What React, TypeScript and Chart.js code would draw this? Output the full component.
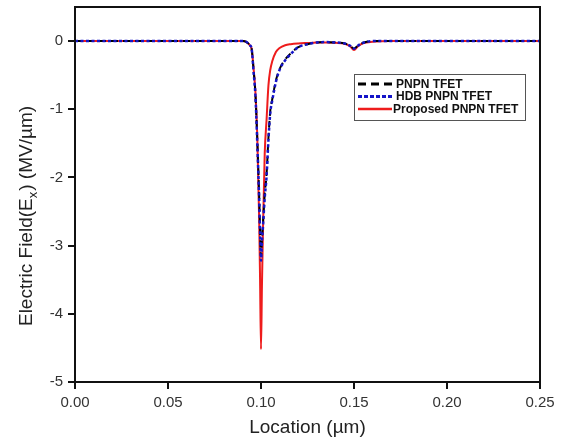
import React, { useEffect, useRef } from "react";
import { Chart, registerables } from "chart.js";

Chart.register(...registerables);

// Location along the device (µm)
const locations = [
  0, 0.02, 0.04, 0.06, 0.08, 0.09, 0.092, 0.094, 0.095, 0.096, 0.097, 0.098,
  0.099, 0.0995, 0.1, 0.1005, 0.101, 0.102, 0.103, 0.104, 0.105, 0.106, 0.108,
  0.11, 0.113, 0.116, 0.12, 0.125, 0.13, 0.135, 0.14, 0.145, 0.148, 0.15,
  0.152, 0.155, 0.16, 0.17, 0.2, 0.25,
];

// Electric field Ex (MV/µm)
const pnpnField = [
  0, 0, 0, 0, 0, 0, -0.01, -0.06, -0.12, -0.42, -0.78, -1.45, -2.25, -2.75,
  -3.15, -2.9, -2.7, -2.25, -1.95, -1.42, -1.02, -0.86, -0.58, -0.41, -0.27,
  -0.18, -0.09, -0.045, -0.02, -0.015, -0.02, -0.035, -0.07, -0.11, -0.07,
  -0.025, 0, 0, 0, 0,
];
const hdbField = [
  0, 0, 0, 0, 0, 0, -0.01, -0.06, -0.12, -0.45, -0.8, -1.5, -2.3, -2.8, -3.22,
  -2.95, -2.75, -2.3, -1.98, -1.45, -1.05, -0.88, -0.6, -0.42, -0.28, -0.19,
  -0.09, -0.045, -0.02, -0.015, -0.02, -0.035, -0.07, -0.11, -0.07, -0.025, 0,
  0, 0, 0,
];
const proposedField = [
  0, 0, 0, 0, 0, 0, -0.01, -0.06, -0.12, -0.4, -0.75, -1.4, -2.6, -3.5, -4.52,
  -3.6, -2.85, -1.65, -1.15, -0.65, -0.42, -0.3, -0.16, -0.1, -0.06, -0.045,
  -0.035, -0.028, -0.022, -0.02, -0.025, -0.04, -0.08, -0.13, -0.08, -0.03,
  -0.01, 0, 0, 0,
];

const seriesNames = ["PNPN TFET", "HDB PNPN TFET", "Proposed PNPN TFET"];
const xTicks = [0, 0.05, 0.1, 0.15, 0.2, 0.25];
const yTicks = [-5, -4, -3, -2, -1, 0];

const FONT = "'Liberation Sans', Arial, sans-serif";

const toPoints = (ys: number[]) => locations.map((x, i) => ({ x, y: ys[i] }));

// Frame, axis titles and the boxed legend drawn on top of the chart
const decorations = {
  id: "decorations",
  afterDraw(chart: any) {
    const { ctx, chartArea } = chart;
    const { left, right, top, bottom } = chartArea;
    ctx.save();

    // box around the plot
    ctx.strokeStyle = "#111";
    ctx.lineWidth = 2;
    ctx.strokeRect(left, top, right - left, bottom - top);

    // x title
    ctx.fillStyle = "#222";
    ctx.font = `19px ${FONT}`;
    ctx.textAlign = "center";
    ctx.textBaseline = "alphabetic";
    ctx.fillText("Location (\u00b5m)", (left + right) / 2, 433);

    // y title with subscript
    ctx.save();
    ctx.translate(32, 216);
    ctx.rotate(-Math.PI / 2);
    const a = "Electric Field(E";
    const s = "x";
    const b = ") (MV/\u00b5m)";
    ctx.font = `19px ${FONT}`;
    const wa = ctx.measureText(a).width;
    const wb = ctx.measureText(b).width;
    ctx.font = `13px ${FONT}`;
    const ws = ctx.measureText(s).width;
    let x0 = -(wa + ws + wb + 1) / 2;
    ctx.textAlign = "left";
    ctx.font = `19px ${FONT}`;
    ctx.fillText(a, x0, 0);
    x0 += wa;
    ctx.font = `13px ${FONT}`;
    ctx.fillText(s, x0, 5);
    x0 += ws + 1;
    ctx.font = `19px ${FONT}`;
    ctx.fillText(b, x0, 0);
    ctx.restore();

    // legend
    const bx = right - 186;
    const by = top + 67;
    const bw = 171;
    const bh = 46;
    ctx.fillStyle = "#fff";
    ctx.fillRect(bx, by, bw, bh);
    ctx.strokeStyle = "#555";
    ctx.lineWidth = 1;
    ctx.strokeRect(bx + 0.5, by + 0.5, bw, bh);
    ctx.font = `bold 12px ${FONT}`;
    ctx.textAlign = "left";
    ctx.textBaseline = "middle";
    chart.data.datasets.forEach((ds: any, i: number) => {
      const ry = by + 10 + i * 12.5;
      ctx.strokeStyle = ds.borderColor;
      ctx.lineWidth = i === 2 ? 2.5 : 3;
      ctx.setLineDash(ds.legendDash || []);
      ctx.beginPath();
      ctx.moveTo(bx + 4, ry);
      ctx.lineTo(bx + 38, ry);
      ctx.stroke();
      ctx.setLineDash([]);
      ctx.fillStyle = "#111";
      ctx.fillText(ds.label, bx + (i === 2 ? 39 : 42), ry + 0.5);
    });

    ctx.restore();
  },
};

export default function App() {
  const canvasRef = useRef<HTMLCanvasElement | null>(null);

  useEffect(() => {
    const canvas = canvasRef.current;
    if (!canvas) return;
    const chart = new Chart(canvas, {
      type: "line",
      data: {
        datasets: [
          {
            label: seriesNames[0],
            data: toPoints(pnpnField),
            borderColor: "#000000",
            borderWidth: 2,
            borderDash: [7, 5],
            legendDash: [8, 5],
            pointRadius: 0,
            cubicInterpolationMode: "monotone",
            fill: false,
            order: 1,
          } as any,
          {
            label: seriesNames[1],
            data: toPoints(hdbField),
            borderColor: "#1414c8",
            borderWidth: 2.5,
            borderDash: [3, 2.5],
            legendDash: [4, 2],
            pointRadius: 0,
            cubicInterpolationMode: "monotone",
            fill: false,
            order: 0,
          } as any,
          {
            label: seriesNames[2],
            data: toPoints(proposedField),
            borderColor: "#ee1c1c",
            borderWidth: 2,
            pointRadius: 0,
            cubicInterpolationMode: "monotone",
            fill: false,
            order: 2,
          } as any,
        ],
      },
      options: {
        responsive: false,
        animation: false,
        layout: { padding: { left: 0, top: 7, right: 28, bottom: 0 } },
        plugins: {
          legend: { display: false },
          tooltip: { enabled: false },
          title: { display: false },
        },
        scales: {
          x: {
            type: "linear",
            min: 0,
            max: 0.25,
            afterFit: (scale: any) => {
              scale.height = 56;
              scale.paddingLeft = 0;
              scale.paddingRight = 0;
            },
            afterBuildTicks: (scale: any) => {
              scale.ticks = xTicks.map((v) => ({ value: v }));
            },
            border: { display: true, color: "#111", width: 2 },
            grid: {
              display: true,
              drawOnChartArea: false,
              drawTicks: true,
              tickLength: 7,
              color: "#111",
              lineWidth: 2,
            },
            ticks: {
              color: "#333",
              font: { family: FONT, size: 15 },
              padding: 5,
              maxRotation: 0,
              callback: (v: any) => Number(v).toFixed(2),
            },
          },
          y: {
            type: "linear",
            min: -5,
            max: 0.5,
            afterFit: (scale: any) => {
              scale.width = 75;
              scale.paddingTop = 0;
              scale.paddingBottom = 0;
            },
            afterBuildTicks: (scale: any) => {
              scale.ticks = yTicks.map((v) => ({ value: v }));
            },
            border: { display: true, color: "#111", width: 2 },
            grid: {
              display: true,
              drawOnChartArea: false,
              drawTicks: true,
              tickLength: 7,
              color: "#111",
              lineWidth: 2,
            },
            ticks: {
              color: "#333",
              font: { family: FONT, size: 15 },
              padding: 5,
              callback: (v: any) => String(v),
            },
          },
        },
      },
      plugins: [decorations],
    });
    return () => chart.destroy();
  }, []);

  return (
    <div style={{ position: "fixed", left: 0, top: 0, width: 568, height: 438, background: "#fff" }}>
      <canvas ref={canvasRef} width={568} height={438} style={{ display: "block" }} />
    </div>
  );
}
